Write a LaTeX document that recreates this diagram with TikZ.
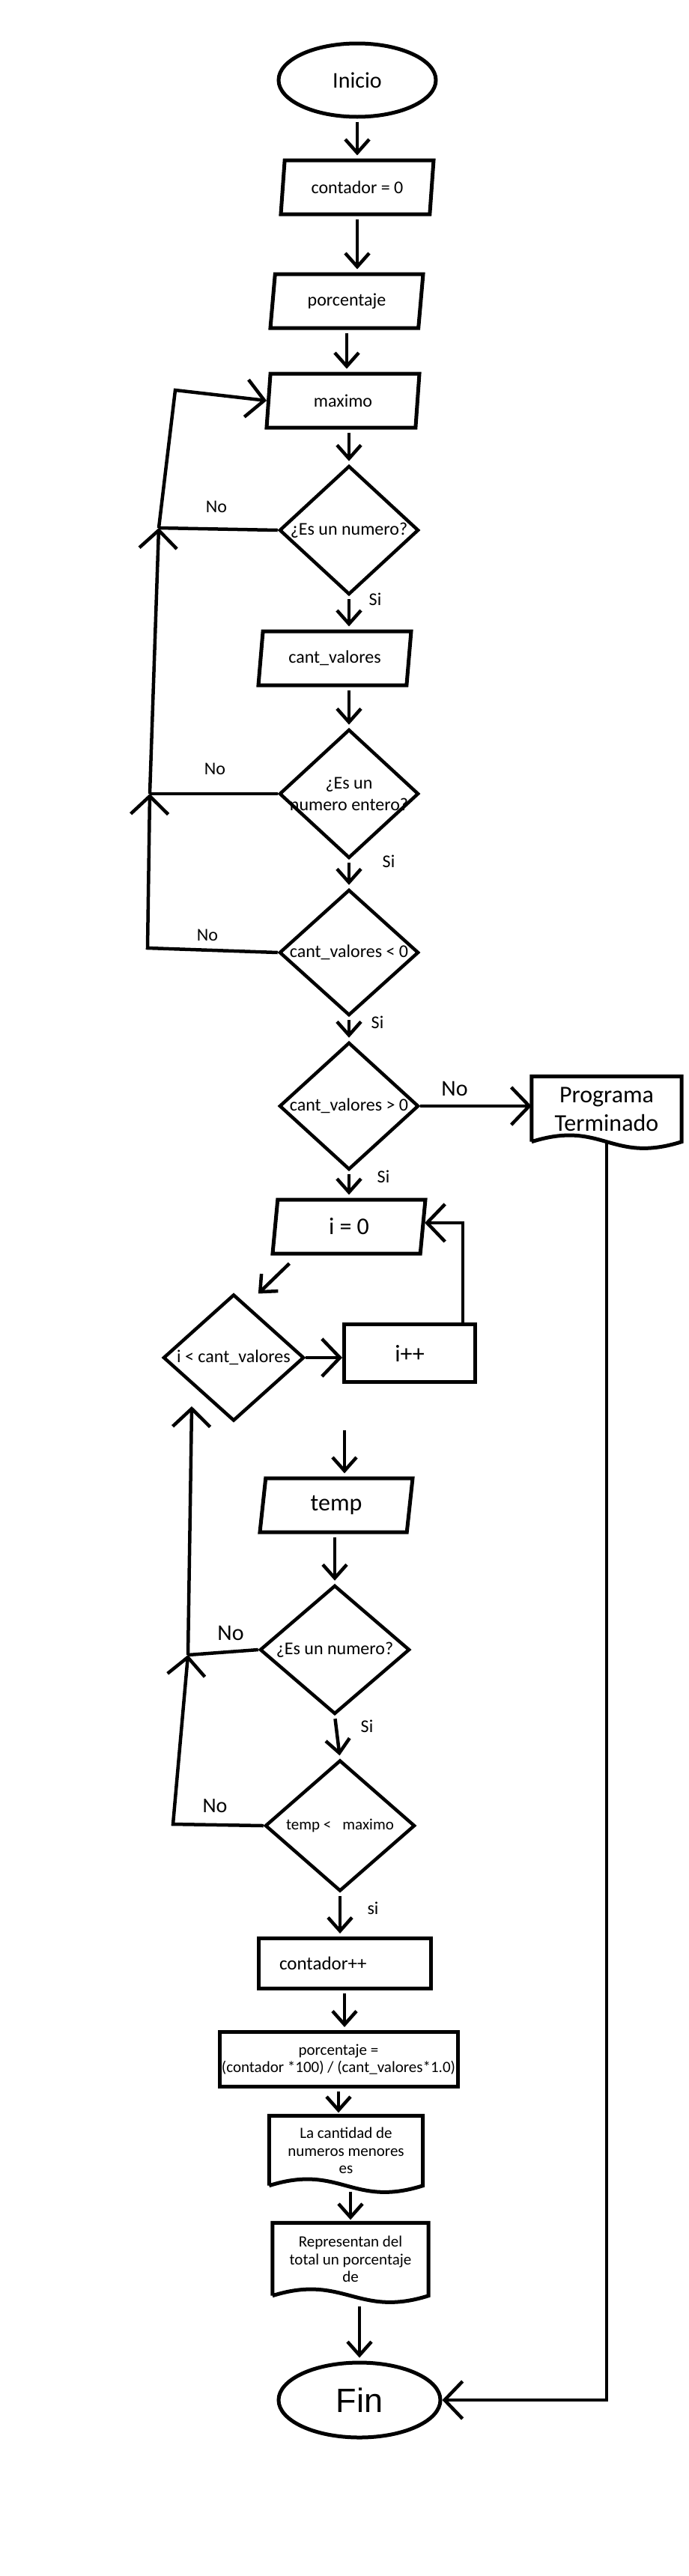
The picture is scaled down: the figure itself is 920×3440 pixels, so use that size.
\documentclass[tikz,border=0pt]{standalone}
\usepackage{fontspec}
\setmainfont{Carlito}
\newfontfamily\finfont{Liberation Sans}
\usetikzlibrary{shapes.geometric,arrows.meta,calc}
\tikzset{
  texto/.style={font=\fontsize{24}{29}\selectfont},
  textog/.style={font=\fontsize{32}{38}\selectfont},
  textop/.style={font=\fontsize{21}{23.5}\selectfont},
  terminal/.style={ellipse,draw,line width=5pt,inner sep=0pt},
  entrada/.style={trapezium,trapezium left angle=73,trapezium right angle=107,trapezium stretches body=true,draw,line width=5pt,minimum width=204pt,minimum height=72pt,inner sep=0pt},
  decision/.style={diamond,draw,line width=4.5pt,minimum width=186pt,minimum height=172pt,inner sep=-12pt,texto},
  proceso/.style={rectangle,draw,line width=5pt,inner sep=0pt},
  hoja/.style={rectangle,inner sep=0pt,align=center,textop},
  borde/.style={line width=5pt},
  flecha/.style={line width=4.5pt,-{Straight Barb[length=18pt,width=32pt]},shorten <=4pt,shorten >=4pt},
  flechag/.style={line width=4.5pt,-{Straight Barb[length=24pt,width=50pt]}},
  linea/.style={line width=4.5pt},
  etiq/.style={inner sep=0pt,texto},
  etiqg/.style={inner sep=0pt,font=\fontsize{30}{36}\selectfont},
}
\newcommand{\onda}[1]{\draw[borde] (#1.south west) -- (#1.north west) -- (#1.north east) -- (#1.south east) .. controls +(-95,30) and +(95,-30) .. (#1.south west);}

\begin{document}
\begin{tikzpicture}[x=1pt,y=-1pt]
  \useasboundingbox (0,0) rectangle (920,3440);
  \node[terminal,minimum width=210pt,minimum height=98pt,font=\fontsize{30}{36}\selectfont] (ini) at (477,107) {Inicio};
  \node[entrada,texto] (cont) at (477,250) {contador = 0};
  \node[entrada,texto] (porc) at (463,402) {porcentaje};
  \node[entrada,texto] (max) at (458,535) {maximo};
  \node[decision] (d1) at (466,708) {¿Es un numero?};
  \node[entrada,texto] (cant) at (447,879) {cant\_valores};
  \node[decision,align=center] (d2) at (466,1060) {¿Es un\\numero entero?};
  \node[decision,minimum height=168pt] (d3) at (466,1272) {cant\_valores < 0};
  \node[decision,minimum height=170pt] (d4) at (466,1477) {cant\_valores > 0};
  \node[hoja,minimum width=200pt,minimum height=87pt,textog] (prog) at (810,1481) {Programa\\Terminado};
  \node[entrada,textog] (i0) at (466,1638) {i = 0};
  \node[decision,minimum width=188pt,minimum height=169pt] (d5) at (312,1813) {i < cant\_valores};
  \node[proceso,minimum width=175pt,minimum height=77pt,textog] (ipp) at (547,1807) {i++};
  \node[entrada,textog] (temp) at (449,2010) {temp};
  \node[decision,minimum width=200pt] (d6) at (447,2203) {¿Es un numero?};
  \node[decision,minimum width=200pt,minimum height=175pt,textop] (d7) at (454,2438) {temp <\hspace{15pt}maximo};
  \node[proceso,minimum height=67pt,text width=174pt,inner xsep=28pt,align=left,font=\fontsize{25}{30}\selectfont] (cpp) at (460,2622) {contador++};
  \node[proceso,minimum width=318pt,minimum height=73pt,align=center,textop] (form) at (452,2750) {porcentaje =\\(contador *100) / (cant\_valores*1.0)};
  \node[hoja,minimum width=205pt,minimum height=93pt] (cant2) at (462,2872) {La cantidad de\\numeros menores\\es};
  \node[hoja,minimum width=208pt,minimum height=97pt] (repr) at (468,3017) {Representan del\\total un porcentaje\\de};
  \node[terminal,minimum width=216pt,minimum height=100pt,font=\finfont\fontsize{45}{50}\selectfont] (fin) at (480,3205) {Fin};
  \onda{prog}
  \onda{cant2}
  \onda{repr}
  \coordinate (la) at (197,1266);
  \coordinate (lb) at (200,1060);
  \coordinate (lc) at (212,705);
  \coordinate (ld) at (234,521);
  \coordinate (ma) at (231,2436);
  \coordinate (mb) at (251,2210);
  \coordinate (mc) at (256,1878);
  \coordinate (lazo) at (618,1633);
  \coordinate (tin) at (460,1906);
  \draw[flecha] (ini.south) -- (ini.south |- cont.north);
  \draw[flecha] (cont.south) -- (cont.south |- porc.north);
  \draw[flecha] (porc.south) -- (porc.south |- max.north);
  \draw[flecha] (d1.north |- max.south) -- (d1.north);
  \draw[flecha] (d1.south) -- (d1.south |- cant.north);
  \draw[flecha] (d2.north |- cant.south) -- (d2.north);
  \draw[flecha] (d2.south) -- (d3.north);
  \draw[flecha] (d3.south) -- (d4.north);
  \draw[flecha] (d4.south) -- (d4.south |- i0.north);
  \draw[flechag] (d4.east) -- (d4.east -| prog.west);
  \draw[flecha] ($(i0.bottom left corner)+(28,8)$) -- ($(d5.north)+(30,4)$);
  \draw[flechag] (d5.east) -- (d5.east -| ipp.west);
  \draw[flechag] (lazo |- ipp.north) -- (lazo) -- (lazo -| i0.east);
  \draw[flecha] (tin) -- (tin |- temp.north);
  \draw[flecha] (d6.north |- temp.south) -- (d6.north);
  \draw[flecha] (d6.south) -- (d7.north);
  \draw[flecha] (d7.south) -- (d7.south |- cpp.north);
  \draw[flecha] (cpp.south) -- (cpp.south |- form.north);
  \draw[flecha] (form.south) -- (form.south |- cant2.north);
  \draw[flecha,shorten <=8pt] (cant2.south -| repr.north) -- (repr.north);
  \draw[flecha,shorten <=14pt] (fin.north |- repr.south) -- (fin.north);
  \draw[flechag] (prog.south) |- (fin.east);
  \draw[flechag] (d3.west) -- (la) -- (lb);
  \draw[flechag] (lb) -- (lc);
  \draw[flechag] (lc) -- (ld) -- (max.west);
  \draw[linea] (d2.west) -- (lb);
  \draw[linea] (d1.west) -- (lc);
  \draw[flechag] (d7.west) -- (ma) -- (mb);
  \draw[flechag] (mb) -- (mc);
  \draw[linea] (d6.west) -- (mb);
  \node[etiq] (no1) at (289,677) {No};
  \node[etiq] (si1) at (501,800) {Si};
  \node[etiq] (no2) at (287,1027) {No};
  \node[etiq] (si2) at (519,1150) {Si};
  \node[etiq] (no3) at (277,1249) {No};
  \node[etiq] (si3) at (504,1365) {Si};
  \node[etiqg] (no4) at (607,1454) {No};
  \node[etiq] (si4) at (512,1571) {Si};
  \node[etiqg] (no5) at (308,2181) {No};
  \node[etiq] (si5) at (490,2305) {Si};
  \node[etiqg,font=\fontsize{28}{34}\selectfont] (no6) at (287,2412) {No};
  \node[etiq] (si6) at (498,2548) {si};
\end{tikzpicture}
\end{document}
